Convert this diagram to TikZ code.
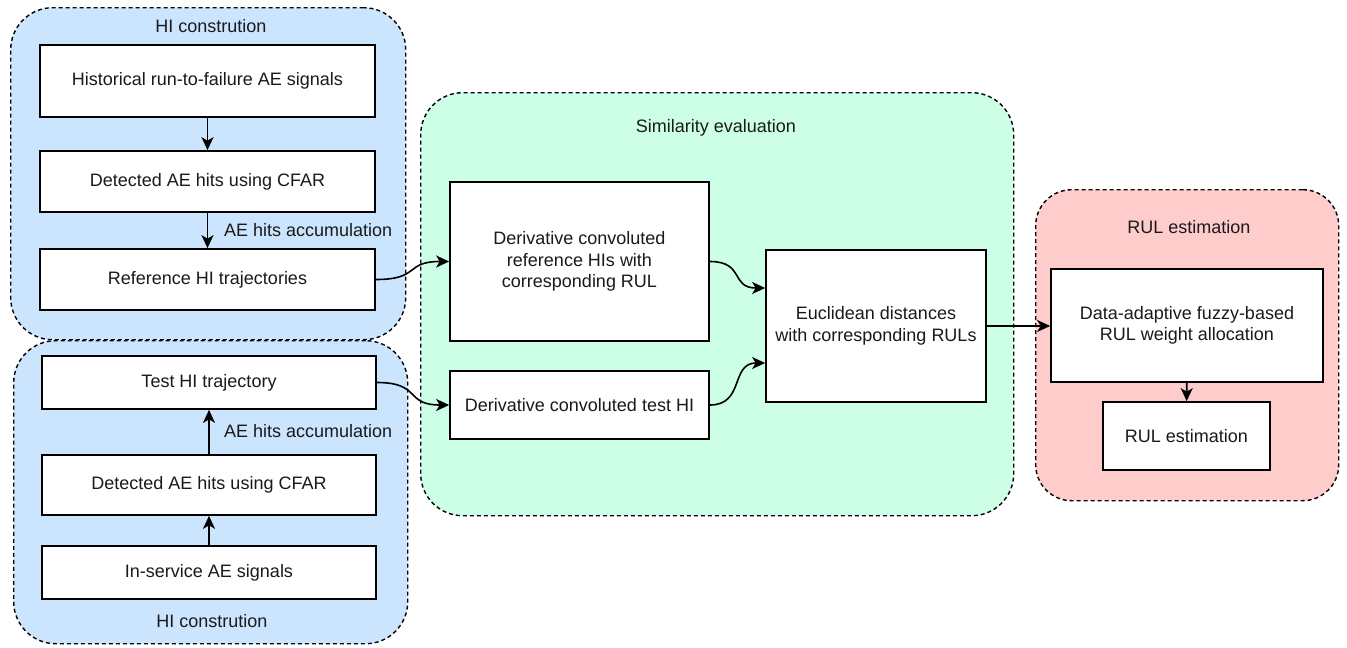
\documentclass[tikz,border=0pt]{standalone}
\usepackage{fontspec}
\setmainfont{Liberation Sans}
\usetikzlibrary{arrows.meta,calc}

\definecolor{panelblue}{HTML}{CCE5FF}
\definecolor{panelgreen}{HTML}{CCFFE6}
\definecolor{panelred}{HTML}{FFCCCC}
\definecolor{inktext}{HTML}{1A1A1A}

\tikzset{
  panel/.style={draw=black, line width=1.4pt, dash pattern=on 4pt off 3pt,
    rounded corners=42pt, inner sep=0pt, anchor=north west},
  stepbox/.style={draw=black, fill=white, line width=1.7pt, inner sep=2pt,
    align=center, text=inktext, font=\fontsize{18}{21.6}\selectfont},
  caption/.style={text=inktext, font=\fontsize{18}{21.6}\selectfont, inner sep=0pt},
  arr/.style={line width=1.6pt, -{Stealth[length=13pt,width=12pt,inset=3.5pt]}}
}

\begin{document}
\begin{tikzpicture}[x=1pt,y=-1pt]
\useasboundingbox (0,0) rectangle (1347,648);

% containers
\node[panel, fill=panelblue, minimum width=395pt, minimum height=332pt] (pTop) at (10,7) {};
\node[panel, fill=panelblue, minimum width=394pt, minimum height=303pt] (pBot) at (13,340) {};
\node[panel, fill=panelgreen, minimum width=593pt, minimum height=423pt] (pMid) at (420,92) {};
\node[panel, fill=panelred, rounded corners=36pt, minimum width=303pt, minimum height=311pt] (pRight) at (1035,189) {};

% container titles
\node[caption] (tTop) at (211,26) {HI constrution};
\node[caption] (tBot) at (212,621) {HI constrution};
\node[caption] (tMid) at (716,128) {Similarity evaluation};
\node[caption] (tRight) at (1189,227) {RUL estimation};

% reference branch
\node[stepbox, minimum width=335pt, minimum height=72pt] (hist) at (207.5,81) {Historical run-to-failure AE signals};
\node[stepbox, minimum width=335pt, minimum height=61pt] (detA) at (207.5,181.5) {Detected AE hits using CFAR};
\node[stepbox, minimum width=335pt, minimum height=61pt] (refHI) at (207.5,279.5) {Reference HI trajectories};

% test branch
\node[stepbox, minimum width=334pt, minimum height=53pt] (testHI) at (209,382.5) {Test HI trajectory};
\node[stepbox, minimum width=334pt, minimum height=60pt] (detB) at (209,485) {Detected AE hits using CFAR};
\node[stepbox, minimum width=334pt, minimum height=53pt] (inserv) at (209,572.5) {In-service AE signals};

% similarity evaluation
\node[stepbox, minimum width=259pt, minimum height=159pt] (derRef) at (579.5,261.5) {Derivative convoluted\\reference HIs with\\corresponding RUL};
\node[stepbox, minimum width=259pt, minimum height=68pt] (derTest) at (579.5,405) {Derivative convoluted test HI};
\node[stepbox, minimum width=220pt, minimum height=152pt] (eucl) at (876,326) {Euclidean distances\\with corresponding RULs};

% RUL estimation
\node[stepbox, minimum width=272pt, minimum height=113pt] (fuzzy) at (1187,325.5) {Data-adaptive fuzzy-based\\RUL weight allocation};
\node[stepbox, minimum width=167pt, minimum height=68pt] (rul) at (1186.5,436) {RUL estimation};

% accumulation labels
\node[caption, anchor=west] (accA) at (224,230) {AE hits accumulation};
\node[caption, anchor=west] (accB) at (224,431) {AE hits accumulation};

% connectors
\draw[arr] (hist) -- (detA);
\draw[arr] (detA) -- (refHI);
\draw[arr] (inserv) -- (detB);
\draw[arr] (detB) -- (testHI);

\draw[arr] (refHI.east) .. controls +(45,0) and +(-45,0) .. (derRef.west);
\draw[arr] (testHI.east) .. controls +(45,0) and +(-45,0) .. (derTest.west);
\draw[arr] (derRef.east) .. controls +(35,0) and +(-35,0) .. ([yshift=38pt]eucl.west);
\draw[arr] (derTest.east) .. controls +(35,0) and +(-35,0) .. ([yshift=-37pt]eucl.west);
\draw[arr] (eucl.east) -- (eucl.east -| fuzzy.west);
\draw[arr] (fuzzy) -- (rul);
\end{tikzpicture}
\end{document}
